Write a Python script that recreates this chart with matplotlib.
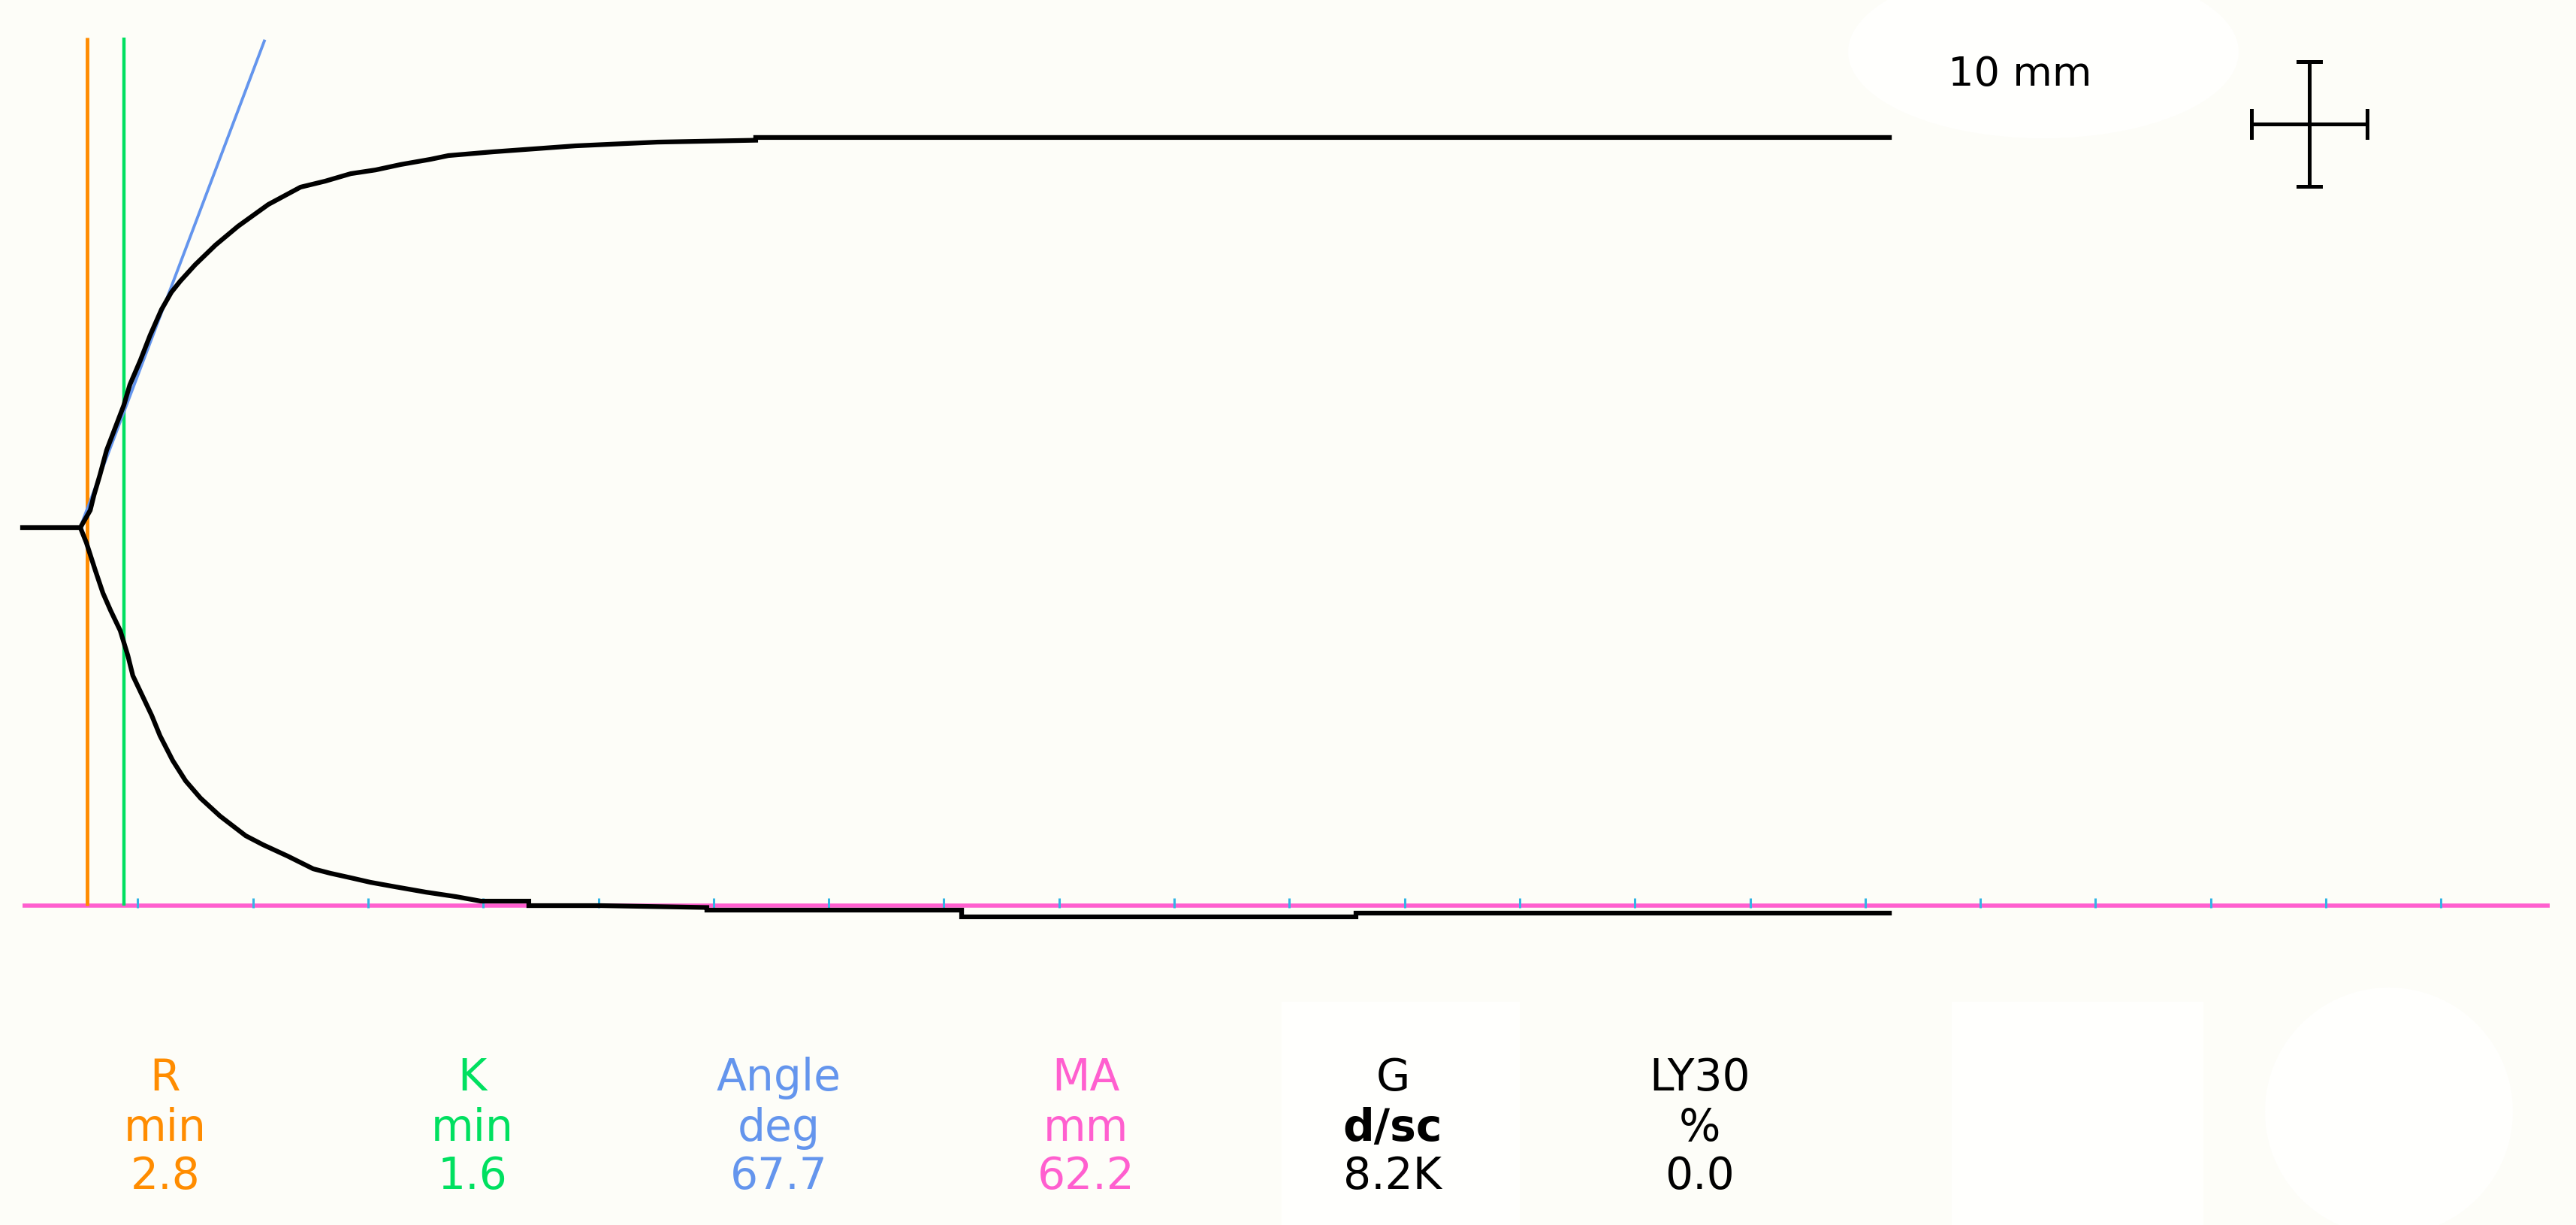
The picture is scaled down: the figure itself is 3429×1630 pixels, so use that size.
import numpy as np
import matplotlib
matplotlib.use('Agg')
import matplotlib.pyplot as plt
from matplotlib.patches import Rectangle, Ellipse

# TEG trace, time in minutes, half amplitude in mm
upper_t = [0.0, 2.51, 2.94, 3.10, 3.36, 3.65, 4.40, 4.66, 5.12, 5.54, 6.03, 6.46, 6.85,
           7.50, 8.38, 9.36, 10.67, 12.07, 13.14, 14.25, 15.33, 16.41, 17.71, 18.49,
           20.42, 24.0, 27.56, 31.83, 31.83, 81.05]
upper_a = [0.0, 0.0, 1.39, 2.59, 4.22, 6.20, 9.82, 11.45, 13.43, 15.42, 17.47, 18.86, 19.76,
           21.08, 22.65, 24.16, 25.90, 27.29, 27.77, 28.37, 28.67, 29.10, 29.52, 29.82,
           30.12, 30.60, 30.90, 31.05, 31.27, 31.27]

lower_t = [2.51, 2.77, 3.16, 3.49, 3.82, 4.24, 4.57, 4.79, 5.61, 5.97, 6.52, 7.08, 7.73,
           8.58, 9.69, 10.44, 11.51, 12.62, 13.37, 14.25, 15.10, 16.21, 17.51, 18.82,
           19.90, 21.98, 21.98, 25.11, 29.71, 29.71, 40.77, 40.77, 57.89, 57.89, 81.05]
lower_a = [0.0, 1.20, 3.43, 5.24, 6.63, 8.25, 10.24, 11.87, 15.06, 16.69, 18.67, 20.30, 21.69,
           23.13, 24.70, 25.42, 26.33, 27.35, 27.71, 28.07, 28.43, 28.80, 29.22, 29.58,
           29.94, 29.94, 30.30, 30.30, 30.45, 30.66, 30.66, 31.20, 31.20, 30.90, 30.90]

r_time = 2.8
k_time = 1.6
angle_deg = 67.7
angle_start = 2.5
angle_top = 39.0
marker_top = 39.3
baseline = -30.3
baseline_end = 109.7
tick_minutes = np.arange(5, 110, 5)

param_names = ['R', 'K', 'Angle', 'MA', 'G', 'LY30']
param_units = ['min', 'min', 'deg', 'mm', 'd/sc', '%']
param_values = ['2.8', '1.6', '67.7', '62.2', '8.2K', '0.0']

c_r = '#FF8C00'
c_k = '#00E060'
c_angle = '#6495ED'
c_ma = '#FF5FCF'
c_tick = '#33B5E5'
bg = '#FDFDF8'
panel = '#FFFFFD'
param_colors = [c_r, c_k, c_angle, c_ma, 'black', 'black']

W, H = 3430, 1631
fig = plt.figure(figsize=(W / 100, H / 100), dpi=100, facecolor=bg)

# faint white panels of the original screen
fig.patches.append(Rectangle((1706 / W, 0), 317 / W, 297 / H, transform=fig.transFigure,
                             facecolor=panel, edgecolor='none', zorder=0))
fig.patches.append(Rectangle((2598 / W, 0), 335 / W, 297 / H, transform=fig.transFigure,
                             facecolor=panel, edgecolor='none', zorder=0))
fig.patches.append(Ellipse((3180 / W, 1 - 1480 / H), 330 / W, 330 / H, transform=fig.transFigure,
                           facecolor=panel, edgecolor='none', zorder=0))
fig.patches.append(Ellipse((2720 / W, 1 - 70 / H), 520 / W, 230 / H, transform=fig.transFigure,
                           facecolor=panel, edgecolor='none', zorder=0))

ax = fig.add_axes([0, 0, 1, 1], zorder=1)
ax.set_facecolor('none')
ax.set_xlim(-0.978, 110.89)
ax.set_ylim(-55.9, 42.35)
ax.axis('off')

# baseline with 5 minute ticks
ax.plot([0, baseline_end], [baseline, baseline], color=c_ma, lw=4, solid_capstyle='butt', zorder=2)
ax.vlines(tick_minutes, baseline - 0.15, baseline + 0.6, color=c_tick, lw=2.2, zorder=3)

# R and K markers
ax.vlines(r_time, baseline, marker_top, color=c_r, lw=3.5, zorder=4)
ax.vlines(r_time + k_time, baseline, marker_top, color=c_k, lw=3.2, zorder=4)

# angle tangent (2 mm per minute chart speed)
slope = 2 * np.tan(np.radians(angle_deg))
ax.plot([angle_start, angle_start + angle_top / slope], [0, angle_top],
        color=c_angle, lw=2.8, zorder=5)

# trace
ax.plot(upper_t, upper_a, color='black', lw=4.5, solid_joinstyle='miter', zorder=6)
ax.plot(lower_t, -np.array(lower_a), color='black', lw=4.5, solid_joinstyle='miter', zorder=6)

# 10 mm scale cross
cx, cy = 99.28, 32.35
lw_c = 3.6
ax.plot([cx - 2.5, cx + 2.5], [cy, cy], color='black', lw=lw_c, zorder=6)
ax.plot([cx, cx], [cy - 5, cy + 5], color='black', lw=lw_c, zorder=6)
ax.plot([cx - 2.5, cx - 2.5], [cy - 1.1, cy + 1.1], color='black', lw=lw_c, zorder=6)
ax.plot([cx + 2.5, cx + 2.5], [cy - 1.1, cy + 1.1], color='black', lw=lw_c, zorder=6)
ax.plot([cx - 0.5, cx + 0.5], [cy + 5, cy + 5], color='black', lw=lw_c, zorder=6)
ax.plot([cx - 0.5, cx + 0.5], [cy - 5, cy - 5], color='black', lw=lw_c, zorder=6)
ax.text(83.6, 35.48, '10 mm', fontsize=39, color='black', ha='left', va='baseline', zorder=7)

# parameter table
rows = [1451, 1518, 1582]
for i in range(len(param_names)):
    x = (220 + 408.5 * i) / W
    col = param_colors[i]
    weight = 'bold' if param_units[i] == 'd/sc' else 'normal'
    fig.text(x, 1 - rows[0] / H, param_names[i], color=col, fontsize=42, ha='center',
             va='baseline', zorder=3)
    fig.text(x, 1 - rows[1] / H, param_units[i], color=col, fontsize=42, ha='center',
             va='baseline', fontweight=weight, zorder=3)
    fig.text(x, 1 - rows[2] / H, param_values[i], color=col, fontsize=42, ha='center',
             va='baseline', zorder=3)

fig.savefig('out.png', dpi=100, facecolor=bg)
